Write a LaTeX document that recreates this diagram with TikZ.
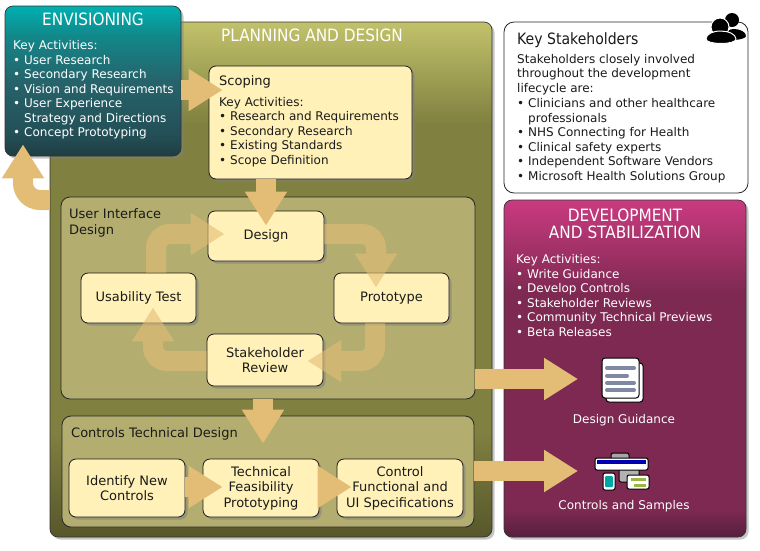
\documentclass[tikz,border=0pt]{standalone}
\usepackage{fontspec}
\setmainfont{DejaVu Sans}
\newfontfamily\headfont{DejaVu Sans}[FakeStretch=0.9]
\usepackage{tikz}
\usetikzlibrary{positioning,arrows.meta,shadows}
\definecolor{cream}{HTML}{FFF1B8}
\definecolor{sand}{HTML}{E3BD75}
\definecolor{olivepanel}{HTML}{B3AE70}
\definecolor{ink}{HTML}{1A1A1A}
\definecolor{linegrey}{HTML}{8088A4}
\pgfdeclareverticalshading{planshade}{100bp}{
  rgb(0bp)=(.34,.34,.17); rgb(25bp)=(.34,.34,.17); rgb(35bp)=(.5,.5,.25);
  rgb(65bp)=(.5,.5,.25); rgb(75bp)=(.76,.76,.42); rgb(100bp)=(.76,.76,.42)}
\pgfdeclareverticalshading{envshade}{100bp}{
  rgb(0bp)=(.12,.24,.26); rgb(25bp)=(.12,.24,.26); rgb(32bp)=(.14,.31,.34);
  rgb(50bp)=(.15,.39,.42); rgb(65bp)=(.07,.53,.54); rgb(75bp)=(0,.69,.69); rgb(100bp)=(0,.69,.69)}
\pgfdeclareverticalshading{devshade}{100bp}{
  rgb(0bp)=(.34,.12,.24); rgb(25bp)=(.34,.12,.24); rgb(29bp)=(.49,.16,.32);
  rgb(61bp)=(.49,.16,.32); rgb(75bp)=(.79,.23,.5); rgb(100bp)=(.79,.23,.5)}
\newcommand{\itm}[1]{\makebox[11pt][l]{\textbullet}#1}
\tikzset{
  bigpanel/.style={draw=black!80, line width=.7pt, rounded corners=8pt, inner sep=0pt, shade,
    drop shadow={shadow xshift=2.5pt, shadow yshift=-2.5pt, opacity=.45}},
  whitepanel/.style={draw=black!85, line width=.8pt, rounded corners=10pt, inner sep=0pt, fill=white},
  subpanel/.style={draw=black!85, line width=.8pt, rounded corners=9pt, fill=olivepanel, inner sep=0pt},
  stepbox/.style={draw=black!90, line width=.8pt, rounded corners=7pt, fill=cream, inner sep=0pt,
    align=center, text=ink, font=\fontsize{13}{15.5}\selectfont,
    drop shadow={shadow xshift=2.5pt, shadow yshift=-2.5pt, opacity=.55}},
  bodytext/.style={anchor=north west, align=left, inner sep=0pt, text=ink, font=\fontsize{12}{14.5}\selectfont},
  headtext/.style={align=center, inner sep=0pt, text=white, font=\headfont\fontsize{17}{17.5}\selectfont},
  blockarrow/.style={draw=sand, line width=20pt, -{Triangle[length=34pt, width=40pt, fill=sand]}},
  looparrow/.style={blockarrow, rounded corners=14pt},
}
\begin{document}
\begin{tikzpicture}[x=1pt, y=-1pt]
\useasboundingbox (0,0) rectangle (760,550);

\node[bigpanel, shading=planshade, minimum width=442pt, minimum height=515pt] (planning) at (271,279.5) {};
\node[bigpanel, shading=envshade, minimum width=176pt, minimum height=150pt] (envisioning) at (93,81) {};
\node[bigpanel, shading=devshade, minimum width=242pt, minimum height=337pt] (development) at (625,368.5) {};
\node[whitepanel, minimum width=244pt, minimum height=171pt] (stakeholders) at (626,107.5) {};

\node[headtext] (planningtitle) at (312,35) {PLANNING AND DESIGN};
\node[headtext] (envisioningtitle) at (93,19.5) {ENVISIONING};
\node[headtext] (developmenttitle) at (625,224) {DEVELOPMENT\\AND STABILIZATION};

\node[bodytext, text=white] (envisioningtext) at (13,40.5) {Key Activities:\\
  \itm{User Research}\\\itm{Secondary Research}\\\itm{Vision and Requirements}\\
  \itm{User Experience}\\\hspace*{11pt}Strategy and Directions\\\itm{Concept Prototyping}};

\node[bodytext, font=\headfont\fontsize{15.6}{17}\selectfont] (stakeholderstitle) at (517,32.5) {Key Stakeholders};
\node[bodytext] (stakeholderstext) at (517,54) {Stakeholders closely involved\\throughout the development\\lifecycle are:\\[1pt]
  \itm{Clinicians and other healthcare}\\\hspace*{11pt}professionals\\\itm{NHS Connecting for Health}\\
  \itm{Clinical safety experts}\\\itm{Independent Software Vendors}\\\itm{Microsoft Health Solutions Group}};

\node[bodytext, text=white] (developmenttext) at (516,254.5) {Key Activities:\\
  \itm{Write Guidance}\\\itm{Develop Controls}\\\itm{Stakeholder Reviews}\\
  \itm{Community Technical Previews}\\\itm{Beta Releases}};

\node[stepbox, minimum width=203pt, minimum height=113pt] (scoping) at (310.5,122.5) {};
\node[bodytext, font=\fontsize{13}{15}\selectfont] (scopingtitle) at (219,75) {Scoping};
\node[bodytext] (scopingtext) at (219,97) {Key Activities:\\
  \itm{Research and Requirements}\\\itm{Secondary Research}\\\itm{Existing Standards}\\\itm{Scope Definition}};

\node[subpanel, minimum width=414pt, minimum height=202pt] (uidesign) at (268,298) {};
\node[bodytext, font=\fontsize{13}{16}\selectfont] (uidesigntitle) at (69,208.5) {User Interface\\Design};
\node[subpanel, minimum width=412pt, minimum height=111pt] (controlsdesign) at (268,471.5) {};
\node[bodytext, font=\fontsize{13}{15}\selectfont] (controlstitle) at (71,427.5) {Controls Technical Design};

\node[stepbox, minimum width=116pt, minimum height=50pt] (design) at (266,236) {Design};
\node[stepbox, minimum width=115pt, minimum height=50pt] (prototype) at (391.5,298) {Prototype};
\node[stepbox, minimum width=115pt, minimum height=50pt] (usability) at (138.5,298) {Usability Test};
\node[stepbox, minimum width=116pt, minimum height=52pt] (review) at (265,360) {Stakeholder\\Review};

\node[stepbox, minimum width=116pt, minimum height=58pt] (identify) at (127,488) {Identify New\\Controls};
\node[stepbox, minimum width=116pt, minimum height=58pt] (feasibility) at (261,488) {Technical\\Feasibility\\Prototyping};
\node[stepbox, minimum width=126pt, minimum height=58pt] (specs) at (400,488) {Control\\Functional and\\UI Specifications};

% arrows
\draw[blockarrow] ([yshift=-9pt]envisioning.east) -- ([xshift=14pt,yshift=32.5pt]scoping.west);
\draw[looparrow, rounded corners=17pt] ([yshift=79.5pt]planning.west) -| ([xshift=-70pt,yshift=12pt]envisioning.south);
\draw[blockarrow] ([xshift=-44.5pt]scoping.south) -- ([yshift=-15pt]design.north);
\draw[blockarrow] ([xshift=-5pt]uidesign.south) -- ([xshift=-5pt,yshift=-28pt]controlsdesign.north);
\draw[blockarrow] ([yshift=1pt]identify.east) -- ([xshift=20pt,yshift=1pt]feasibility.west);
\draw[blockarrow] ([yshift=1pt]feasibility.east) -- ([xshift=15pt,yshift=1pt]specs.west);
\coordinate (guidanceend) at (578,379);
\coordinate (samplesend) at (578,471);
\draw[blockarrow] (uidesign.east |- guidanceend) -- (guidanceend);
\draw[blockarrow] (controlsdesign.east |- samplesend) -- (samplesend);
\begin{scope}[transparency group, opacity=.6]
\draw[looparrow] ([yshift=2pt]design.east) -| ([xshift=-15.5pt,yshift=-15pt]prototype.north);
\draw[looparrow] ([xshift=-16.5pt]prototype.south) |- ([xshift=-16pt,yshift=-1pt]review.east);
\draw[looparrow] ([yshift=-1pt]review.west) -| ([xshift=14.5pt,yshift=16pt]usability.south);
\draw[looparrow] ([xshift=17.5pt]usability.north) |- ([xshift=17pt,yshift=2pt]design.west);
\end{scope}

% design guidance icon
\draw[fill=white, draw=black, line width=1pt, rounded corners=3pt] (606,363) rectangle (643,402);
\draw[fill=white, draw=black, line width=1pt, rounded corners=3pt] (602,358) rectangle (639,398);
\foreach \ly/\lx in {368/634, 375.5/627, 383/634, 390/634}
  \draw[linegrey, line width=4pt, line cap=round] (607,\ly) -- (\lx,\ly);
\node[inner sep=0pt, text=white, font=\fontsize{12}{14}\selectfont] (guidancelabel) at (624,420) {Design Guidance};

% controls icon
\draw[fill=gray!70, draw=black, line width=1pt, rounded corners=2pt] (611,453) rectangle (629,464);
\draw[fill=gray!60, draw=black, line width=1pt, rounded corners=2pt] (619,468) rectangle (639,482);
\draw[fill=white, draw=black, line width=1pt, rounded corners=2pt] (595,458) rectangle (648,470);
\fill[blue!70!black] (597,460) rectangle (646,464);
\draw[fill=white, draw=black, line width=1pt, rounded corners=2pt] (603,473) rectangle (615,490);
\fill[teal!70!cyan, rounded corners=1pt] (605,476) rectangle (613,487);
\draw[fill=white, draw=black, line width=1pt, rounded corners=2pt] (627,475) rectangle (649,489);
\fill[olive!70!green!70!white] (631,478) rectangle (646,481);
\fill[olive!70!green!70!white] (634,484) rectangle (646,487);
\node[inner sep=0pt, text=white, font=\fontsize{12}{14}\selectfont] (sampleslabel) at (624,506) {Controls and Samples};

% people icon
\fill (732,20) circle[radius=7pt];
\fill (724,38) .. controls (724,31) and (730,29) .. (734,29) .. controls (740,29) and (746,32) .. (746,36) .. controls (746,40) and (724,42) .. (724,38);
\draw[white, fill=black, line width=1pt] (720,27) circle[radius=9pt];
\draw[white, fill=black, line width=1pt] (706,39) .. controls (706,34) and (713,31) .. (720.5,31) .. controls (728,31) and (736,34) .. (736,39) .. controls (736,45) and (706,45) .. (706,39);
\end{tikzpicture}
\end{document}
